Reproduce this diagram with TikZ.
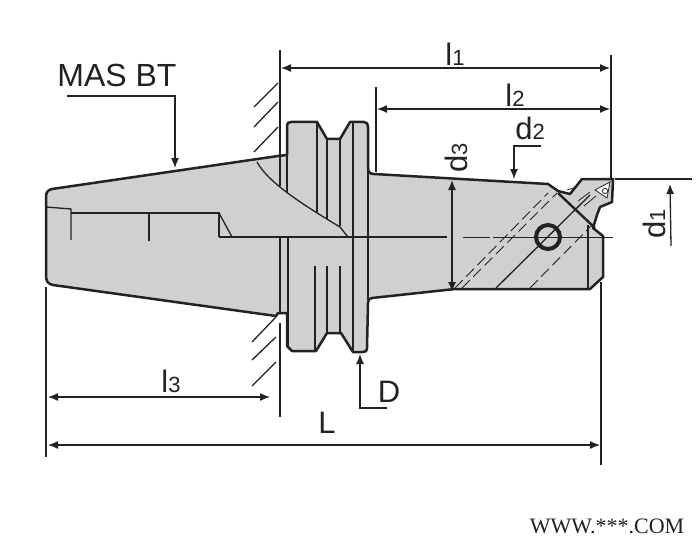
\documentclass[tikz,border=0pt]{standalone}
\usepackage{fontspec}
\setmainfont{Liberation Sans}
\newfontfamily\serifmark{Liberation Serif}
\usetikzlibrary{arrows.meta, calc}
\definecolor{bodygray}{HTML}{CFD0D2}
\definecolor{inkgray}{HTML}{222222}

\newcommand{\dimlabel}[2]{\fontsize{31}{31}\selectfont #1\fontsize{22}{22}\selectfont #2}

\tikzset{
    outline/.style={draw=inkgray, line width=2.5pt, line join=round},
    inner/.style={draw=inkgray, line width=1.3pt},
    thin inner/.style={draw=inkgray, line width=0.8pt},
    hidden/.style={draw=inkgray, line width=0.9pt, dash pattern=on 11pt off 5pt},
    dimline/.style={draw=inkgray, line width=1.3pt},
    dimarrow/.style={dimline, -{Latex[length=10pt,width=8pt]}},
    dimboth/.style={dimline, {Latex[length=10pt,width=8pt]}-{Latex[length=10pt,width=8pt]}},
    dimtext/.style={text=inkgray, inner sep=0pt}
}

\begin{document}
\begin{tikzpicture}[x=1pt, y=-1pt]
\useasboundingbox (0,0) rectangle (700,548);

% body
\draw[outline, fill=bodygray] (46,197) .. controls (46,192) and (48,190) .. (52,189)
    -- (278,156) -- (287,155) -- (287,126) .. controls (287,123) and (288,122) .. (291,122)
    -- (317,122) -- (327,139) -- (340,139) -- (350,122) -- (364,122)
    .. controls (367,122) and (368,124) .. (368,127) -- (368,168)
    .. controls (368,172) and (370,174) .. (374,174)
    -- (548,184) -- (558,191) -- (570,194) -- (582,179) -- (613,179) -- (612,202)
    -- (600,207) -- (597,215) -- (593,228) -- (603,236) -- (603,277) -- (590,289)
    -- (455,289) -- (372,298) .. controls (369,298) and (368,300) .. (368,303)
    -- (367,348) .. controls (367,351) and (366,352) .. (363,352) -- (353,352)
    -- (341,333) -- (327,333) -- (316,351) -- (292,351) -- (287,346) -- (287,313)
    -- (278,313) -- (276,316) -- (53,285) .. controls (48,284) and (46,281) .. (46,276) -- cycle;

% taper keyway
\draw[inner] (46,207) -- (71,209) -- (71,240);
\draw[inner] (71,213) -- (219,213) -- (219,237);
\draw[inner] (149,213) -- (149,241);
\draw[inner] (219,213) -- (232,237);
\draw[inner] (219,237) -- (447,237);
\draw[inner] (257,162) .. controls (268,182) and (300,203) .. (340,227) -- (348,237);

% flange
\draw[inner] (280,155) -- (280,186);
\draw[inner] (287,155) -- (287,193);
\draw[inner] (280,237) -- (280,313);
\draw[inner, line width=1.6pt] (288,237) -- (288,347);
\foreach \x/\ytop/\ybot in {317/122/212, 327/139/219, 340/139/226}{
    \draw[inner] (\x, \ytop) -- (\x, \ybot);
};
\draw[inner] (353,122) -- (353,352);
\draw[inner, line width=1.6pt] (368,170) -- (368,300);
\draw[inner] (315,266) -- (315,351);
\foreach \x in {327, 340}{
    \draw[inner] (\x, 266) -- (\x, 333);
};

% center line
\draw[thin inner] (463,237) -- (490,237);
\draw[thin inner] (493,237) -- (613,237);

% holes and flats
\draw[hidden] (455,288) -- (548,193);
\draw[hidden] (462,288) -- (557,193);
\draw[inner] (496,288) -- (590,195);
\draw[hidden] (530,288) -- (592,225);
\draw[outline, line width=2.4pt] (558,193) -- (595,228);
\draw[draw=inkgray, line width=4pt] (548,237) circle (12);
\draw[inner] (588,225) -- (588,289);

% cutting insert
\draw[thin inner, fill=white] (595,190) -- (610,182) -- (607,198) -- cycle;
\draw[thin inner] (605,191) circle (2.6);
\draw[thin inner] (567,190) -- (577,187);
\draw[thin inner] (578,201) -- (590,192);
\draw[thin inner] (584,206) -- (596,196);

% machine face
\draw[dimline] (280,50) -- (280,155);
\draw[dimline] (280,323) -- (280,417);
\foreach \ya/\yb in {107/83, 127/102, 152/127}{
    \draw[dimline] (254,\ya) -- (278,\yb);
};
\foreach \ya/\yb in {342/317, 360/337, 386/362}{
    \draw[dimline] (252,\ya) -- (276,\yb);
};

% extension lines
\coordinate (l1 left) at (281,68);
\coordinate (l1 right) at (610,68);
\coordinate (l2 left) at (377,109);
\coordinate (l2 right) at (610,109);
\coordinate (l3 left) at (48,397);
\coordinate (l3 right) at (270,397);
\coordinate (L left) at (48,445);
\coordinate (L right) at (600,445);
\draw[dimline] (611,55) -- (611,178);
\draw[dimline] (376,87) -- (376,172);
\draw[dimline] (46,287) -- (46,457);
\draw[dimline] (601,282) -- (601,465);
\draw[dimline] (615,179) -- (692,179);

% dimensions
\draw[dimboth] (l1 left) -- (l1 right);
\draw[dimboth] (l2 left) -- (l2 right);
\draw[dimboth] (l3 left) -- (l3 right);
\draw[dimboth] (L left) -- (L right);
\draw[dimboth] (452,180) -- (452,292);
\draw[dimarrow] (671,246) -- (670,184);
\draw[dimarrow] (541,146) -- (514,146) -- (514,179);
\draw[dimarrow] (387,408) -- (360,408) -- (360,354);
\draw[dimarrow] (67,96) -- (175,96) -- (175,168);

% labels
\node[dimtext] (mas bt) at (117,75) {\fontsize{32}{32}\selectfont MAS BT};
\node[dimtext] (l1 text) at (455,54) {\dimlabel{l}{1}};
\node[dimtext] (l2 text) at (515,95) {\dimlabel{l}{2}};
\node[dimtext] (l3 text) at (171,381) {\dimlabel{l}{3}};
\node[dimtext] (d1 text) at (654,224) [rotate=90] {\dimlabel{d}{1}};
\node[dimtext] (d2 text) at (530,128) {\dimlabel{d}{2}};
\node[dimtext] (d3 text) at (456,158) [rotate=90] {\dimlabel{d}{3}};
\node[dimtext] (D text) at (389,392) {\fontsize{31}{31}\selectfont D};
\node[dimtext] (L text) at (327,423) {\fontsize{31}{31}\selectfont L};
\node[dimtext] (site mark) at (607,526) {\serifmark\fontsize{22}{22}\selectfont WWW.***.COM};

\end{tikzpicture}
\end{document}
